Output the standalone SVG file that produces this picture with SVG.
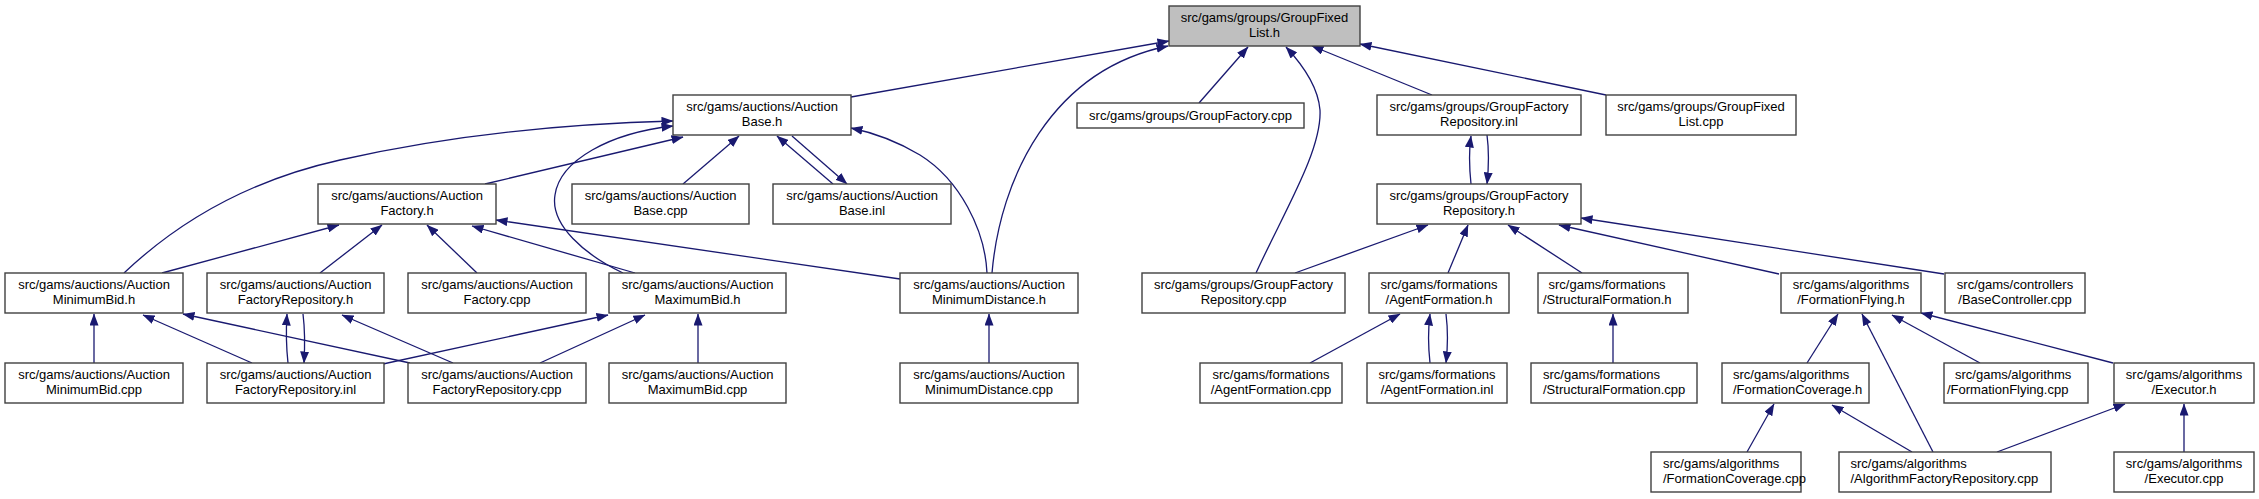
<svg xmlns="http://www.w3.org/2000/svg" width="2259" height="499" viewBox="0 0 2259 499">
<style>
.n rect{fill:#fff;stroke:#404040;stroke-width:1.4}
.n.g rect{fill:#bfbfbf}
.n text{font-family:"Liberation Sans",Arial,sans-serif;font-size:13px;fill:#000;text-anchor:middle}
.n text.s{text-anchor:start}
#edges path{fill:none;stroke:#191970;stroke-width:1.3;marker-end:url(#ah)}
</style>
<defs>
<marker id="ah" viewBox="0 0 12 9" refX="11.5" refY="4.5" markerWidth="12" markerHeight="9" markerUnits="userSpaceOnUse" orient="auto">
<path d="M0,0 L12,4.5 L0,9 Z" fill="#191970"/>
</marker>
</defs>
<rect width="2259" height="499" fill="#fff"/>
<g id="edges">
<path d="M851,97 L1169,41"/>
<path d="M1199,103 L1248,47"/>
<path d="M992,273 C1000,180 1050,70 1168,46"/>
<path d="M1256,273 C1285,210 1322,150 1320,110 C1318,85 1300,62 1286,47"/>
<path d="M1432,95 L1312,46"/>
<path d="M1606,95 L1360,44"/>
<path d="M1471,184 C1469,165 1469,150 1471,136"/>
<path d="M1487,135 C1489,150 1489,165 1487,184"/>
<path d="M833,184 L777,136"/>
<path d="M792,136 L847,184"/>
<path d="M683,184 L739,136"/>
<path d="M485,184 L683,137"/>
<path d="M124,273 C180,220 250,180 340,160 C450,135 560,124 673,121"/>
<path d="M623,273 C585,255 550,225 555,195 C560,160 610,133 673,126"/>
<path d="M987,273 C985,230 960,180 920,155 C895,140 875,133 851,128"/>
<path d="M162,273 L339,225"/>
<path d="M320,273 L382,225"/>
<path d="M477,273 L427,225"/>
<path d="M635,273 L472,226"/>
<path d="M900,279 L496,220"/>
<path d="M94,363 L94,314"/>
<path d="M252,363 L143,315"/>
<path d="M410,363 L183,314"/>
<path d="M288,363 C286,345 286,330 287,314"/>
<path d="M303,314 C305,330 305,345 304,363"/>
<path d="M453,363 L342,315"/>
<path d="M383,364 L608,315"/>
<path d="M540,363 L645,315"/>
<path d="M698,363 L698,314"/>
<path d="M989,363 L989,314"/>
<path d="M1295,273 L1428,225"/>
<path d="M1448,273 L1468,225"/>
<path d="M1582,273 L1508,225"/>
<path d="M1779,274 L1559,225"/>
<path d="M1944,274 L1581,218"/>
<path d="M1310,363 L1400,314"/>
<path d="M1430,363 C1428,345 1428,330 1430,314"/>
<path d="M1446,314 C1448,330 1448,345 1446,363"/>
<path d="M1613,363 L1613,314"/>
<path d="M1807,363 L1838,314"/>
<path d="M1933,452 L1862,314"/>
<path d="M1980,363 L1892,315"/>
<path d="M2113,363 L1921,313"/>
<path d="M1747,452 L1774,404"/>
<path d="M1912,452 L1832,405"/>
<path d="M1997,452 L2125,404"/>
<path d="M2184,452 L2184,404"/>
</g>
<g id="n0" class="n g"><rect x="1169" y="6" width="191" height="40"/><text x="1264.5" y="21.7">src/gams/groups/GroupFixed</text><text x="1264.5" y="36.7">List.h</text></g>
<g id="n1" class="n"><rect x="673" y="95" width="178" height="40"/><text x="762" y="110.7">src/gams/auctions/Auction</text><text x="762" y="125.7">Base.h</text></g>
<g id="n2" class="n"><rect x="1077" y="103" width="227" height="25"/><text x="1190.5" y="119.5">src/gams/groups/GroupFactory.cpp</text></g>
<g id="n3" class="n"><rect x="1377" y="95" width="204" height="40"/><text x="1479" y="110.7">src/gams/groups/GroupFactory</text><text x="1479" y="125.7">Repository.inl</text></g>
<g id="n4" class="n"><rect x="1606" y="95" width="190" height="40"/><text x="1701" y="110.7">src/gams/groups/GroupFixed</text><text x="1701" y="125.7">List.cpp</text></g>
<g id="n5" class="n"><rect x="318" y="184" width="178" height="40"/><text x="407" y="199.7">src/gams/auctions/Auction</text><text x="407" y="214.7">Factory.h</text></g>
<g id="n6" class="n"><rect x="572" y="184" width="177" height="40"/><text x="660.5" y="199.7">src/gams/auctions/Auction</text><text x="660.5" y="214.7">Base.cpp</text></g>
<g id="n7" class="n"><rect x="773" y="184" width="178" height="40"/><text x="862" y="199.7">src/gams/auctions/Auction</text><text x="862" y="214.7">Base.inl</text></g>
<g id="n8" class="n"><rect x="1377" y="184" width="204" height="40"/><text x="1479" y="199.7">src/gams/groups/GroupFactory</text><text x="1479" y="214.7">Repository.h</text></g>
<g id="n9" class="n"><rect x="5" y="273" width="178" height="40"/><text x="94" y="288.7">src/gams/auctions/Auction</text><text x="94" y="303.7">MinimumBid.h</text></g>
<g id="n10" class="n"><rect x="207" y="273" width="177" height="40"/><text x="295.5" y="288.7">src/gams/auctions/Auction</text><text x="295.5" y="303.7">FactoryRepository.h</text></g>
<g id="n11" class="n"><rect x="408" y="273" width="178" height="40"/><text x="497" y="288.7">src/gams/auctions/Auction</text><text x="497" y="303.7">Factory.cpp</text></g>
<g id="n12" class="n"><rect x="609" y="273" width="177" height="40"/><text x="697.5" y="288.7">src/gams/auctions/Auction</text><text x="697.5" y="303.7">MaximumBid.h</text></g>
<g id="n13" class="n"><rect x="900" y="273" width="178" height="40"/><text x="989" y="288.7">src/gams/auctions/Auction</text><text x="989" y="303.7">MinimumDistance.h</text></g>
<g id="n14" class="n"><rect x="1142" y="273" width="203" height="40"/><text x="1243.5" y="288.7">src/gams/groups/GroupFactory</text><text x="1243.5" y="303.7">Repository.cpp</text></g>
<g id="n15" class="n"><rect x="1369" y="273" width="140" height="40"/><text x="1439" y="288.7">src/gams/formations</text><text x="1439" y="303.7">/AgentFormation.h</text></g>
<g id="n16" class="n"><rect x="1538" y="273" width="150" height="40"/><text class="s" x="1548.5" y="288.7">src/gams/formations</text><text class="s" x="1543" y="303.7">/StructuralFormation.h</text></g>
<g id="n17" class="n"><rect x="1781" y="273" width="140" height="40"/><text x="1851" y="288.7">src/gams/algorithms</text><text x="1851" y="303.7">/FormationFlying.h</text></g>
<g id="n18" class="n"><rect x="1945" y="273" width="140" height="40"/><text x="2015" y="288.7">src/gams/controllers</text><text x="2015" y="303.7">/BaseController.cpp</text></g>
<g id="n19" class="n"><rect x="5" y="363" width="178" height="40"/><text x="94" y="378.7">src/gams/auctions/Auction</text><text x="94" y="393.7">MinimumBid.cpp</text></g>
<g id="n20" class="n"><rect x="207" y="363" width="177" height="40"/><text x="295.5" y="378.7">src/gams/auctions/Auction</text><text x="295.5" y="393.7">FactoryRepository.inl</text></g>
<g id="n21" class="n"><rect x="408" y="363" width="178" height="40"/><text x="497" y="378.7">src/gams/auctions/Auction</text><text x="497" y="393.7">FactoryRepository.cpp</text></g>
<g id="n22" class="n"><rect x="609" y="363" width="177" height="40"/><text x="697.5" y="378.7">src/gams/auctions/Auction</text><text x="697.5" y="393.7">MaximumBid.cpp</text></g>
<g id="n23" class="n"><rect x="900" y="363" width="178" height="40"/><text x="989" y="378.7">src/gams/auctions/Auction</text><text x="989" y="393.7">MinimumDistance.cpp</text></g>
<g id="n24" class="n"><rect x="1200" y="363" width="142" height="40"/><text x="1271" y="378.7">src/gams/formations</text><text x="1271" y="393.7">/AgentFormation.cpp</text></g>
<g id="n25" class="n"><rect x="1367" y="363" width="140" height="40"/><text x="1437" y="378.7">src/gams/formations</text><text x="1437" y="393.7">/AgentFormation.inl</text></g>
<g id="n26" class="n"><rect x="1531" y="363" width="166" height="40"/><text class="s" x="1543" y="378.7">src/gams/formations</text><text class="s" x="1543" y="393.7">/StructuralFormation.cpp</text></g>
<g id="n27" class="n"><rect x="1722" y="363" width="147" height="40"/><text class="s" x="1733" y="378.7">src/gams/algorithms</text><text class="s" x="1733" y="393.7">/FormationCoverage.h</text></g>
<g id="n28" class="n"><rect x="1944" y="363" width="144" height="40"/><text class="s" x="1955" y="378.7">src/gams/algorithms</text><text class="s" x="1947" y="393.7">/FormationFlying.cpp</text></g>
<g id="n29" class="n"><rect x="2114" y="363" width="140" height="40"/><text x="2184" y="378.7">src/gams/algorithms</text><text x="2184" y="393.7">/Executor.h</text></g>
<g id="n30" class="n"><rect x="1651" y="452" width="150" height="40"/><text class="s" x="1663" y="467.7">src/gams/algorithms</text><text class="s" x="1663" y="482.7">/FormationCoverage.cpp</text></g>
<g id="n31" class="n"><rect x="1839" y="452" width="212" height="40"/><text class="s" x="1850.5" y="467.7">src/gams/algorithms</text><text class="s" x="1850.5" y="482.7">/AlgorithmFactoryRepository.cpp</text></g>
<g id="n32" class="n"><rect x="2114" y="452" width="140" height="40"/><text x="2184" y="467.7">src/gams/algorithms</text><text x="2184" y="482.7">/Executor.cpp</text></g>
</svg>
